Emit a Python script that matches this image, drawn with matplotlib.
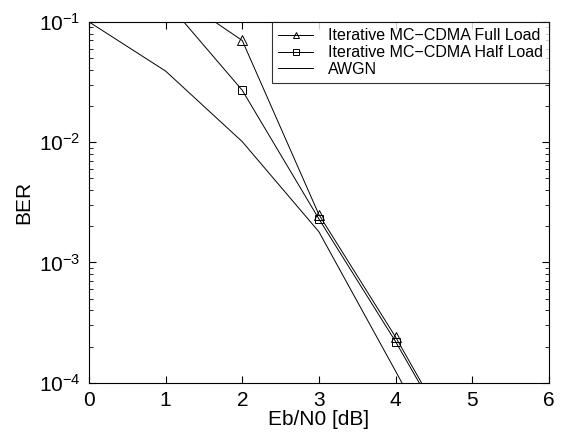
import matplotlib
matplotlib.use('Agg')
import matplotlib.pyplot as plt

plt.rcParams['font.family'] = ['Liberation Sans', 'DejaVu Sans']
plt.rcParams['mathtext.fontset'] = 'custom'
plt.rcParams['mathtext.rm'] = 'Liberation Sans'

snr_db = [0, 1, 2, 3, 4, 5]
ber_full = [0.40, 0.19, 0.070, 0.0025, 0.00024, 0.000018]
ber_half = [0.30, 0.15, 0.027, 0.0023, 0.00022, 0.000017]
ber_awgn = [0.1, 0.039, 0.0101, 0.0018, 0.000125, 0.0000085]

fig = plt.figure(figsize=(5.7, 4.37), dpi=100)
ax = fig.add_axes([0.156, 0.124, 0.807, 0.826])

ax.semilogy(snr_db, ber_full, 'k-', marker='^', markersize=7, markerfacecolor='none',
            markeredgewidth=0.7, linewidth=0.7, label='Iterative MC\u2212CDMA Full Load',
            markevery=[2, 3, 4])
ax.semilogy(snr_db, ber_half, 'k-', marker='s', markersize=5.5, markerfacecolor='none',
            markeredgewidth=0.7, linewidth=0.7, label='Iterative MC\u2212CDMA Half Load',
            markevery=[2, 3, 4])
ax.semilogy(snr_db, ber_awgn, 'k-', linewidth=0.7, label='AWGN')

ax.set_xlim(0, 6)
ax.set_ylim(1e-4, 1e-1)
ax.set_xticks([0, 1, 2, 3, 4, 5, 6])
ax.tick_params(which='both', direction='in', top=True, right=True, labelsize=15)
ax.tick_params(which='major', length=5, pad=6)
ax.tick_params(which='minor', length=3)
ax.set_xlabel('Eb/N0 [dB]', fontsize=15, labelpad=0)
ax.set_ylabel('BER', fontsize=15, labelpad=4)
for s in ax.spines.values():
    s.set_linewidth(0.8)

leg = ax.legend(loc='upper right', fontsize=11.5, frameon=True, fancybox=False,
                edgecolor='black', borderaxespad=0, handlelength=2.2,
                handletextpad=0.9, borderpad=0.4, labelspacing=0.12)
leg.get_frame().set_linewidth(0.8)
for h in leg.legend_handles:
    h.set_markersize(5)

fig.savefig('out.png', dpi=100)
